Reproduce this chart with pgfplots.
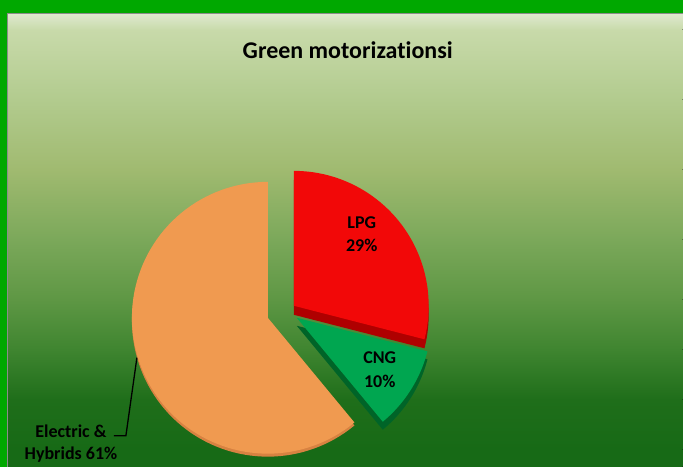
\documentclass[border=0pt]{standalone}
\usepackage{pgfplots}
\usepackage{pgfplotstable}
\pgfplotsset{compat=1.18}
\usepackage{fontspec}
\setmainfont[Ligatures={NoCommon}]{Carlito}
\definecolor{frame}{RGB}{0,168,0}
\definecolor{c0}{RGB}{222,233,207}
\definecolor{c1}{RGB}{200,218,170}
\definecolor{c2}{RGB}{178,203,142}
\definecolor{c3}{RGB}{160,186,112}
\definecolor{c4}{RGB}{123,168,90}
\definecolor{c5}{RGB}{94,151,68}
\definecolor{c6}{RGB}{63,133,48}
\definecolor{c7}{RGB}{31,110,26}
\definecolor{c8}{RGB}{23,106,22}
\definecolor{lpg}{RGB}{242,8,8}
\definecolor{lpgside}{RGB}{175,0,0}
\definecolor{cng}{RGB}{0,166,80}
\definecolor{cngside}{RGB}{0,100,40}
\definecolor{elec}{RGB}{240,154,80}
\definecolor{elecside}{RGB}{215,130,65}
\pgfplotstableread{
label value
LPG 29
CNG 10
Electric 61
}\piedata
\newcommand{\slice}[6]{%
  \addplot[fill=#6, draw=none, domain=#4:#5, samples=90, variable=\t]
    ({#1+#3*sin(\t)}, {#2+#3*cos(\t)}) -- (axis cs:#1,#2) -- cycle;}
\begin{document}
\begin{tikzpicture}
\pgfplotstablegetelem{0}{value}\of\piedata \let\vA\pgfplotsretval
\pgfplotstablegetelem{1}{value}\of\piedata \let\vB\pgfplotsretval
\pgfplotstablegetelem{2}{value}\of\piedata \let\vC\pgfplotsretval
\pgfmathsetmacro{\eA}{3.6*\vA}
\pgfmathsetmacro{\eB}{\eA+3.6*\vB}
\pgfmathsetmacro{\eC}{\eB+3.6*\vC}
\begin{axis}[scale only axis, width=683pt, height=467pt,
  xmin=0, xmax=683, ymin=0, ymax=467, hide axis, clip=false]
% background
\fill[frame] (axis cs:0,0) rectangle (axis cs:683,467);
\fill[top color=c8, bottom color=c8] (axis cs:8,0) rectangle (axis cs:683,17.5);
\fill[top color=c7, bottom color=c8] (axis cs:8,17) rectangle (axis cs:683,67.5);
\fill[top color=c6, bottom color=c7] (axis cs:8,67) rectangle (axis cs:683,117.5);
\fill[top color=c5, bottom color=c6] (axis cs:8,117) rectangle (axis cs:683,167.5);
\fill[top color=c4, bottom color=c5] (axis cs:8,167) rectangle (axis cs:683,227.5);
\fill[top color=c3, bottom color=c4] (axis cs:8,227) rectangle (axis cs:683,297.5);
\fill[top color=c2, bottom color=c3] (axis cs:8,297) rectangle (axis cs:683,367.5);
\fill[top color=c1, bottom color=c2] (axis cs:8,367) rectangle (axis cs:683,437.5);
\fill[top color=c0, bottom color=c1] (axis cs:8,437) rectangle (axis cs:683,453);
\draw[gray!90, line width=1pt] (axis cs:8,0) -- (axis cs:8,453) -- (axis cs:683,453);
% pie
\slice{268}{146}{136}{\eB}{\eC}{elecside}
\slice{268}{149}{136}{\eB}{\eC}{elec}
\slice{294}{152}{135}{0}{\eA}{lpgside}
\slice{294}{161}{135}{0}{\eA}{lpg}
\slice{297}{141}{135}{\eA}{\eB}{cngside}
\slice{297}{149}{135}{\eA}{\eB}{cng}
% labels
\node[font=\bfseries\fontsize{24}{28}\selectfont] at (axis cs:348,417) {Green motorizationsi};
\node[font=\bfseries\fontsize{18}{23}\selectfont, align=center] at (axis cs:362,233) {LPG\\29\%};
\node[font=\bfseries\fontsize{18}{24}\selectfont, align=center] at (axis cs:380,97) {CNG\\10\%};
\node[font=\bfseries\fontsize{18}{22}\selectfont, align=center] at (axis cs:71,23) {Electric \&\\Hybrids 61\%};
\draw[black, line width=1.3pt] (axis cs:137,109) -- (axis cs:126,31) -- (axis cs:114,31);
\end{axis}
\end{tikzpicture}
\end{document}
